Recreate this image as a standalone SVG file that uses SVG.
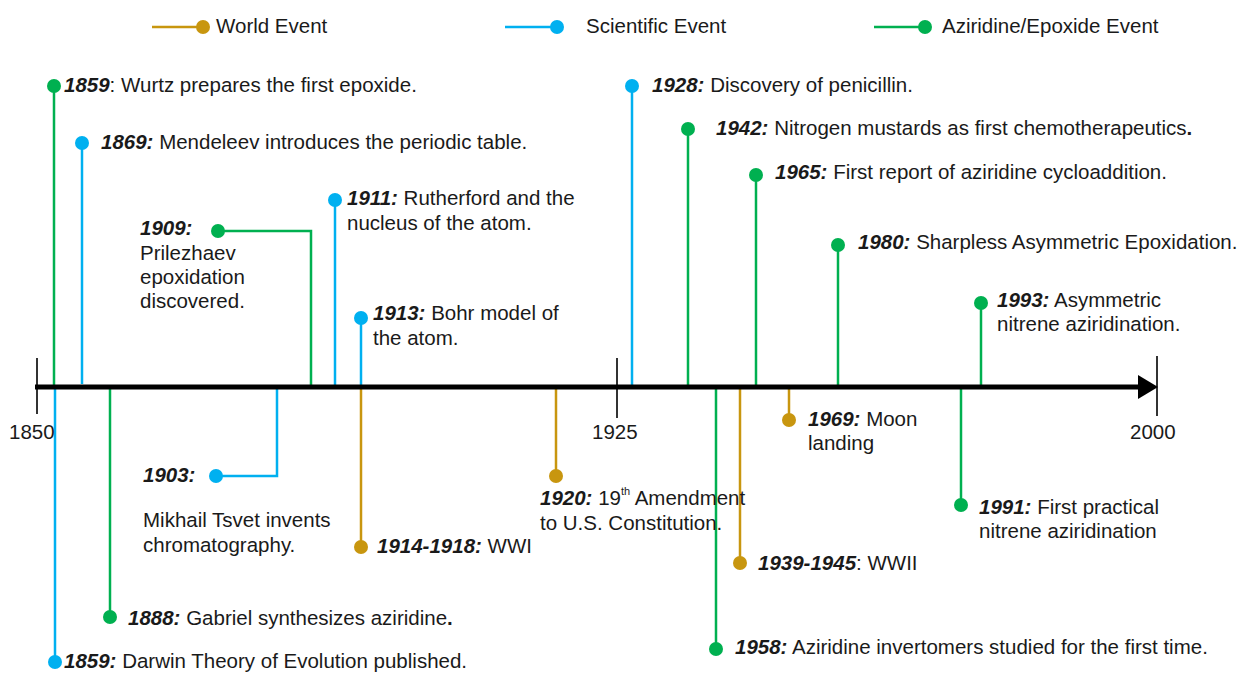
<svg xmlns="http://www.w3.org/2000/svg" width="1240" height="673" viewBox="0 0 1240 673">
<style>
text{font-family:"Liberation Sans",Arial,sans-serif;font-size:20.5px;fill:#1a1a1a}
.y{font-weight:bold;font-style:italic}
.w{stroke:#C8960F;fill:none;stroke-width:2.5}
.s{stroke:#00B0F0;fill:none;stroke-width:2.5}
.a{stroke:#00B050;fill:none;stroke-width:2.5}
.wd{fill:#C8960F}.sd{fill:#00B0F0}.ad{fill:#00B050}
.tick{stroke:#333;stroke-width:2}
</style>
<rect width="1240" height="673" fill="#fff"/>
<g id="legend">
<line class="w" x1="152" y1="27" x2="200" y2="27"/><circle class="wd" cx="203" cy="27" r="7"/><text x="216" y="33">World Event</text>
<line class="s" x1="505" y1="27" x2="553" y2="27"/><circle class="sd" cx="557" cy="27" r="7"/><text x="586" y="33">Scientific Event</text>
<line class="a" x1="874" y1="27" x2="922" y2="27"/><circle class="ad" cx="925" cy="27" r="7"/><text x="942" y="33">Aziridine/Epoxide Event</text>
</g>
<g id="connectors">
<line class="a" x1="54" y1="86" x2="54" y2="386"/>
<line class="s" x1="55" y1="388" x2="55" y2="662"/>
<line class="s" x1="82" y1="143" x2="82" y2="384"/>
<line class="a" x1="110" y1="388" x2="110" y2="617"/>
<polyline class="s" points="216,476 277,476 277,388"/>
<polyline class="a" points="218,231 311,231 311,386"/>
<line class="s" x1="335" y1="200" x2="335" y2="386"/>
<line class="s" x1="361" y1="318" x2="361" y2="386"/>
<line class="w" x1="361" y1="388" x2="361" y2="547"/>
<line class="w" x1="556" y1="388" x2="556" y2="476"/>
<line class="s" x1="632" y1="86" x2="632" y2="386"/>
<line class="a" x1="688" y1="129" x2="688" y2="386"/>
<line class="a" x1="716" y1="388" x2="716" y2="649"/>
<line class="w" x1="740" y1="388" x2="740" y2="563"/>
<line class="a" x1="756" y1="175" x2="756" y2="386"/>
<line class="w" x1="789" y1="388" x2="789" y2="420"/>
<line class="a" x1="838" y1="245" x2="838" y2="386"/>
<line class="a" x1="961" y1="388" x2="961" y2="505"/>
<line class="a" x1="981" y1="303" x2="981" y2="386"/>
</g>
<g id="axis">
<line class="tick" x1="37" y1="358" x2="37" y2="414"/>
<line class="tick" x1="617" y1="358" x2="617" y2="418"/>
<line class="tick" x1="1157" y1="356" x2="1157" y2="416"/>
<line x1="35" y1="387" x2="1140" y2="387" stroke="#000" stroke-width="5"/>
<polygon points="1138,375 1158,387 1138,399" fill="#000"/>
<text x="9" y="439">1850</text>
<text x="592" y="439">1925</text>
<text x="1130" y="439">2000</text>
</g>
<g id="e1859w"><circle class="ad" cx="54" cy="86" r="7"/><text x="64" y="92"><tspan class="y">1859</tspan>: Wurtz prepares the first epoxide.</text></g>
<g id="e1859d"><circle class="sd" cx="55" cy="662" r="7"/><text x="64" y="668"><tspan class="y">1859:</tspan> Darwin Theory of Evolution published.</text></g>
<g id="e1869"><circle class="sd" cx="82" cy="143" r="7"/><text x="101" y="149"><tspan class="y">1869:</tspan>  Mendeleev introduces the periodic table.</text></g>
<g id="e1888"><circle class="ad" cx="110" cy="617" r="7"/><text x="128" y="625"><tspan class="y">1888:</tspan> Gabriel synthesizes aziridine<tspan font-weight="bold">.</tspan></text></g>
<g id="e1903"><circle class="sd" cx="216" cy="476" r="7"/><text x="143" y="482" class="y">1903:</text><text x="143" y="527">Mikhail Tsvet invents</text><text x="143" y="552">chromatography.</text></g>
<g id="e1909"><circle class="ad" cx="218" cy="231" r="7"/><text x="140" y="235" class="y">1909:</text><text x="140" y="260">Prilezhaev</text><text x="140" y="284">epoxidation</text><text x="140" y="308">discovered.</text></g>
<g id="e1911"><circle class="sd" cx="335" cy="200" r="7"/><text x="347" y="205"><tspan class="y">1911:</tspan> Rutherford and the</text><text x="347" y="230">nucleus of the atom.</text></g>
<g id="e1913"><circle class="sd" cx="361" cy="318" r="7"/><text x="373" y="320"><tspan class="y">1913:</tspan> Bohr model of</text><text x="373" y="345">the atom.</text></g>
<g id="e1914"><circle class="wd" cx="361" cy="547" r="7"/><text x="377" y="553"><tspan class="y">1914-1918:</tspan> WWI</text></g>
<g id="e1920"><circle class="wd" cx="556" cy="476" r="7"/><text x="540" y="505"><tspan class="y">1920:</tspan> 19<tspan font-size="11" dy="-10">th</tspan><tspan dy="10"> Amendment</tspan></text><text x="540" y="530">to U.S. Constitution.</text></g>
<g id="e1928"><circle class="sd" cx="632" cy="86" r="7"/><text x="652" y="92"><tspan class="y">1928:</tspan>  Discovery of penicillin.</text></g>
<g id="e1942"><circle class="ad" cx="688" cy="129" r="7"/><text x="716" y="135"><tspan class="y">1942:</tspan> Nitrogen mustards as first chemotherapeutics<tspan font-weight="bold">.</tspan></text></g>
<g id="e1958"><circle class="ad" cx="716" cy="649" r="7"/><text x="735" y="654"><tspan class="y">1958:</tspan> Aziridine invertomers studied for the first time.</text></g>
<g id="e1939"><circle class="wd" cx="740" cy="563" r="7"/><text x="758" y="570"><tspan class="y">1939-1945</tspan>: WWII</text></g>
<g id="e1965"><circle class="ad" cx="756" cy="175" r="7"/><text x="775" y="179"><tspan class="y">1965:</tspan> First report of aziridine cycloaddition.</text></g>
<g id="e1969"><circle class="wd" cx="789" cy="420" r="7"/><text x="808" y="426"><tspan class="y">1969:</tspan> Moon</text><text x="808" y="450">landing</text></g>
<g id="e1980"><circle class="ad" cx="838" cy="245" r="7"/><text x="858" y="249"><tspan class="y">1980:</tspan> Sharpless Asymmetric Epoxidation.</text></g>
<g id="e1991"><circle class="ad" cx="961" cy="505" r="7"/><text x="979" y="514"><tspan class="y">1991:</tspan> First practical</text><text x="979" y="538">nitrene aziridination</text></g>
<g id="e1993"><circle class="ad" cx="981" cy="303" r="7"/><text x="997" y="307"><tspan class="y">1993:</tspan> Asymmetric</text><text x="997" y="331">nitrene aziridination.</text></g>
</svg>
